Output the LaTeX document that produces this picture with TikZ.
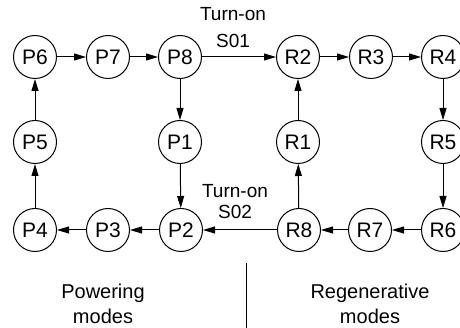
\documentclass[tikz,border=0pt]{standalone}
\usepackage{fontspec}
\setmainfont{Liberation Sans}
\usetikzlibrary{arrows.meta,positioning}
\tikzset{
  >={Triangle[length=12pt,width=7pt]},
  mode/.style={circle, draw=black, line width=1pt, minimum size=43pt,
              inner sep=0pt, font=\fontsize{21}{23}\selectfont},
  lbl/.style={font=\fontsize{19}{21}\selectfont, align=center},
  grp/.style={font=\fontsize{20}{25}\selectfont, align=center},
  flow/.style={->, draw=black, line width=1pt},
}

\begin{document}
\begin{tikzpicture}[x=1pt,y=-1pt]
        \clip (0,0) rectangle (460,328);
        \path[use as bounding box] (0,0) rectangle (460,328);
        % powering modes
        \node[mode] (p6) at (35,57){P6};
        \node[mode] (p7) at (108,57){P7};
        \node[mode] (p8) at (180,57){P8};
        \node[mode] (p5) at (35,142){P5};
        \node[mode] (p1) at (180,142){P1};
        \node[mode] (p4) at (35,230){P4};
        \node[mode] (p3) at (108,230){P3};
        \node[mode] (p2) at (181,230){P2};
        % regenerative modes
        \node[mode] (r2) at (298,57){R2};
        \node[mode] (r3) at (371,57){R3};
        \node[mode] (r4) at (443,57){R4};
        \node[mode] (r1) at (298,142){R1};
        \node[mode] (r5) at (443,142){R5};
        \node[mode] (r8) at (299,230){R8};
        \node[mode] (r7) at (370,230){R7};
        \node[mode] (r6) at (443,230){R6};
        \foreach \a/\b in {p6/p7,p7/p8,p8/p1,p1/p2,p2/p3,p3/p4,p4/p5,p5/p6,
                           r2/r3,r3/r4,r4/r5,r5/r6,r6/r7,r7/r8,r8/r1,r1/r2}
          {\draw[flow](\a)--(\b);}
        \draw[flow](p8)--(r2);
        \draw[flow](r8)--(p2);
        \node[lbl] (s01) at (233,28){Turn-on\\[6pt]S01};
        \node[lbl] (s02) at (235,202){Turn-on\\S02};
        % split
        \coordinate (top) at (246,263);
        \coordinate (bot) at (246,328);
        \draw[line width=0.6pt](top)--(bot);
        \node[grp] (pw) at (103,304){Powering\\modes};
        \node[grp] (rg) at (370,304){Regenerative\\modes};
      \end{tikzpicture}
\end{document}
